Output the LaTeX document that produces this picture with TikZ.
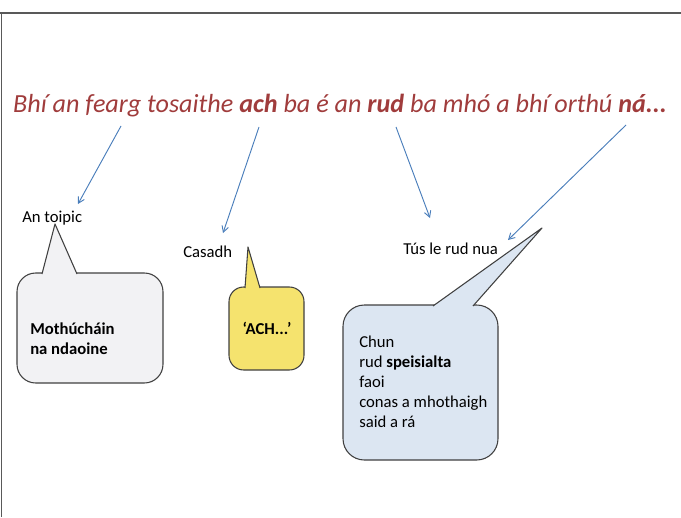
\documentclass[tikz,border=0pt]{standalone}
\usepackage{fontspec}
\setmainfont{Carlito}
\usetikzlibrary{arrows.meta,positioning}
\definecolor{titlered}{HTML}{A03C3C}
\definecolor{arrblue}{HTML}{4A7EBB}
\definecolor{bubgrey}{HTML}{F2F2F4}
\definecolor{bubyellow}{HTML}{F5E36E}
\definecolor{bubblue}{HTML}{DCE6F2}
\tikzset{lbl/.style={anchor=base west,inner sep=0pt,font=\fontsize{12.5}{15}\selectfont},
  bub/.style={draw=black!75,line width=0.8pt,line join=round},
  txt/.style={anchor=base west,inner sep=0pt,align=left,font=\fontsize{12.5}{15}\selectfont},
  arr/.style={-{Straight Barb[length=4.5pt,width=5pt]},arrblue,line width=0.7pt}}

\begin{document}
\begin{tikzpicture}[x=0.75pt,y=-0.75pt]
\useasboundingbox (0,0) rectangle (681,517);
\draw[black!65,line width=1.2pt] (0,13)--(681,13) (1.5,13)--(1.5,517);
% sentence
\node[anchor=base,inner sep=0pt,titlered,font=\itshape\fontsize{19.6}{24}\selectfont] (title) at (340,113)
  {Bhí an fearg tosaithe \textbf{ach} ba é an \textbf{rud} ba mhó a bhí orthú \textbf{ná...}};
% labels
\node[lbl] (toipic) at (22,222) {An toipic};
\node[lbl] (casadh) at (183,257) {Casadh};
\node[lbl] (tus) at (403,254) {Tús le rud nua};
% bubbles
\draw[bub,fill=bubgrey,rounded corners=14] (17,273) rectangle (163,383);
\draw[bub,fill=bubgrey] (42,274) -- (55,224) -- (77,274);
\draw[bub,fill=bubyellow,rounded corners=11] (229,287) rectangle (304,370);
\draw[bub,fill=bubyellow] (245,288) -- (248,247) -- (260,288);
\draw[bub,fill=bubblue,rounded corners=16] (343,305) rectangle (498,460);
\draw[bub,fill=bubblue] (433,306) -- (542,228) -- (473,306);
\node[txt,font=\bfseries\fontsize{12.5}{15}\selectfont] (moth) at (30,354) {Mothúcháin\\na ndaoine};
\node[anchor=base,inner sep=0pt,font=\bfseries\fontsize{12.5}{15}\selectfont] (ach) at (267,334) {‘ACH...’};
\node[txt] (chun) at (359,427) {Chun\\rud \textbf{speisialta}\\faoi\\conas a mhothaigh\\said a rá};
% arrows
\coordinate (s1) at (121,126); \coordinate (e1) at (78,204);
\coordinate (s2) at (259,127); \coordinate (e2) at (223,233);
\coordinate (s3) at (396,127); \coordinate (e3) at (430,218);
\coordinate (s4) at (626,125); \coordinate (e4) at (508,240);
\foreach \i in {1,...,4} \draw[arr] (s\i) -- (e\i);
\end{tikzpicture}
\end{document}
